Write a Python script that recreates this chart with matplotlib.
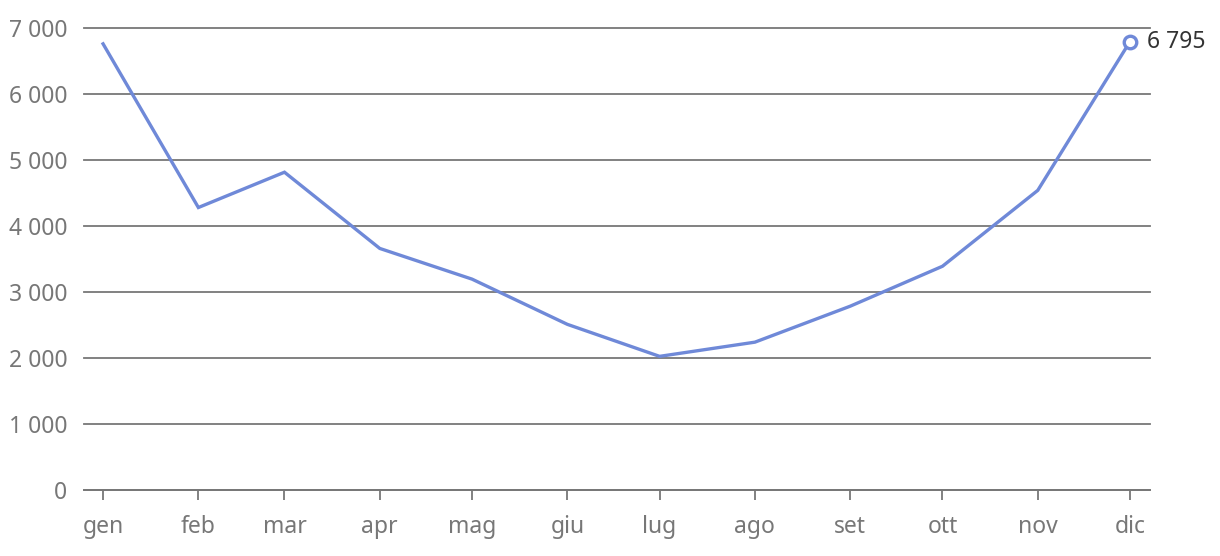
import matplotlib
matplotlib.use("Agg")
import matplotlib.pyplot as plt
import matplotlib.dates as mdates
import matplotlib.ticker as mticker
import pandas as pd

plt.rcParams['font.family'] = ['Noto Sans', 'DejaVu Sans']

months = pd.date_range('2023-01-01', periods=12, freq='MS')
month_labels = ['gen', 'feb', 'mar', 'apr', 'mag', 'giu', 'lug', 'ago', 'set', 'ott', 'nov', 'dic']
values = [6760, 4280, 4815, 3660, 3195, 2510, 2025, 2240, 2785, 3390, 4540, 6795]

line_color = '#6f89d8'
grid_color = '#777777'
text_color = '#777777'

fig = plt.figure(figsize=(12.2, 5.56), dpi=100)
ax = fig.add_axes([84 / 1220, 1 - 490 / 556, (1150 - 84) / 1220, (490 - 28) / 556])

ax.plot(months, values, color=line_color, lw=2.4, solid_joinstyle='miter', zorder=3)
ax.plot(months[-1], values[-1], 'o', ms=9, mfc='white', mec=line_color, mew=2.4, zorder=4)
ax.annotate(f"{values[-1]:,}".replace(',', ' '), (months[-1], values[-1]),
            xytext=(12, 0), textcoords='offset points', va='center', ha='left',
            fontsize=16.5, color='#333333')

ax.set_ylim(0, 7000)
ax.set_xlim(months[0] - pd.Timedelta(days=6.2), months[-1] + pd.Timedelta(days=6.5))
ax.yaxis.set_major_locator(mticker.MultipleLocator(1000))
ax.yaxis.set_major_formatter(mticker.FuncFormatter(lambda v, p: f"{int(v):,}".replace(',', ' ')))
ax.set_xticks(months)
ax.set_xticklabels(month_labels)

ax.grid(axis='y', color=grid_color, lw=1.3)
for gl in ax.get_ygridlines():
    gl.set_clip_on(False)
ax.set_axisbelow(True)
for s in ['top', 'right', 'left']:
    ax.spines[s].set_visible(False)
ax.spines['bottom'].set_color(grid_color)
ax.spines['bottom'].set_linewidth(1.3)

ax.tick_params(axis='y', length=0, pad=12, labelsize=16.5, labelcolor=text_color)
ax.tick_params(axis='x', length=7, width=1.3, color=grid_color, pad=11, labelsize=16.5, labelcolor=text_color)

fig.savefig('out.png', dpi=100)
